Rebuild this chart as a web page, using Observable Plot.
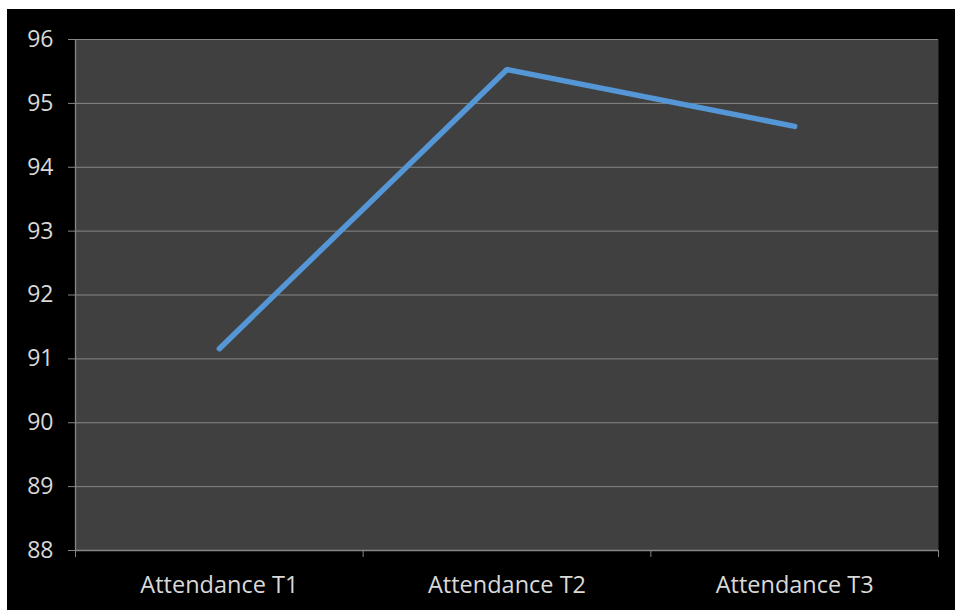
<!DOCTYPE html>
<html>
<head>
<meta charset="utf-8">
<script src="https://cdn.jsdelivr.net/npm/d3@7"></script>
<script src="https://cdn.jsdelivr.net/npm/@observablehq/plot@0.6"></script>
<style>
  html, body { margin: 0; padding: 0; background: #ffffff; }
  #chart { position: absolute; left: 7px; top: 9px; width: 948px; height: 601px; background: #000000; }
  #chart svg { display: block; }
</style>
</head>
<body>
<div id="chart"></div>
<script>
// Attendance by term
const terms = ["Attendance T1", "Attendance T2", "Attendance T3"];
const attendance = [91.16, 95.53, 94.64];
const yTicks = [88, 89, 90, 91, 92, 93, 94, 95, 96];

const data = terms.map((term, i) => ({term, pos: i + 0.5, value: attendance[i]}));
const bounds = d3.range(terms.length + 1);

const font = "'Open Sans', sans-serif";
const textColor = "#d9d9d9";
const gridColor = "#868686";

const chart = Plot.plot({
  width: 948,
  height: 601,
  marginLeft: 68,
  marginTop: 30,
  marginRight: 17,
  marginBottom: 60,
  style: {background: "transparent", fontFamily: font, color: textColor, overflow: "visible"},
  x: {domain: [0, terms.length], axis: null},
  y: {domain: [88, 96], axis: null},
  marks: [
    Plot.frame({fill: "#404040", stroke: null}),
    Plot.gridY(yTicks, {stroke: gridColor, strokeOpacity: 1, strokeWidth: 1}),
    Plot.ruleX([0], {stroke: gridColor, strokeWidth: 1.3}),
    Plot.ruleY([88], {stroke: gridColor, strokeWidth: 1.3}),
    // y axis ticks and labels
    Plot.axisY(yTicks, {
      tickSize: 7, stroke: gridColor, tickPadding: 15,
      fontSize: 23, fill: textColor, label: null,
      tickFormat: d3.format("d")
    }),
    // x axis: boundary ticks
    Plot.axisX(bounds, {tickSize: 7, stroke: gridColor, tickFormat: () => "", label: null}),
    // x axis: category labels at band centres
    Plot.axisX(data.map(d => d.pos), {
      tickSize: 0, tickPadding: 26, fontSize: 23.5, fill: textColor, label: null,
      tickFormat: (v) => terms[Math.floor(v)]
    }),
    Plot.line(data, {
      x: "pos", y: "value",
      stroke: "#5597d6", strokeWidth: 5.5,
      strokeLinecap: "round", strokeLinejoin: "miter"
    })
  ]
});

document.getElementById("chart").appendChild(chart);
</script>
</body>
</html>
